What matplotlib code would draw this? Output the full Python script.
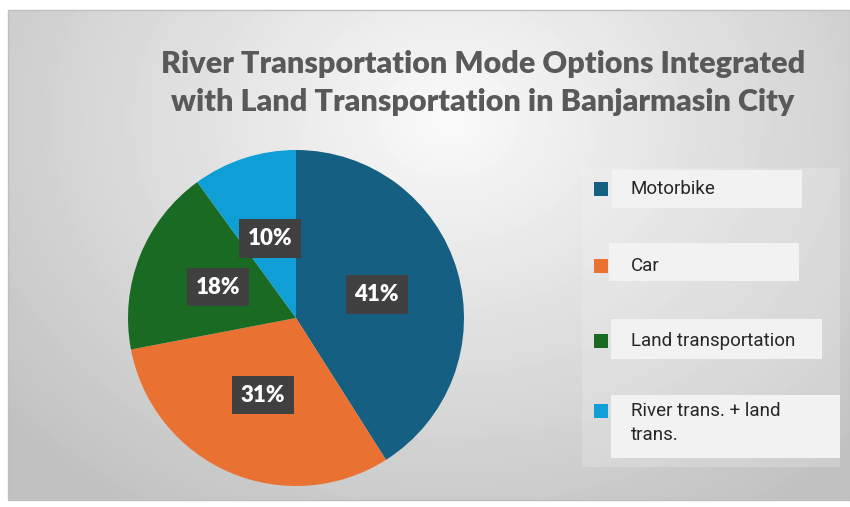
import numpy as np
import matplotlib.pyplot as plt
from matplotlib.patches import Rectangle

labels = ["Motorbike", "Car", "Land transportation", "River trans. + land\ntrans."]
shares = [41, 31, 18, 10]
colors = ["#156082", "#E97132", "#196B24", "#0F9ED5"]

W, H = 850, 507
fig = plt.figure(figsize=(W / 100, H / 100), dpi=100)

# gradient background of the chart area
bg = fig.add_axes([8 / W, (H - 500) / H, (W - 8) / W, 490 / H])
yy, xx = np.mgrid[0:490, 0:842]
d = np.hypot((xx - 440) / 520, (yy - 110) / 420)
shade = np.clip(0.98 - 0.2 * d, 0.76, 0.98)
bg.imshow(shade, cmap="gray", vmin=0, vmax=1, aspect="auto", interpolation="bilinear")
bg.axis("off")
fig.patches.append(Rectangle((8 / W, (H - 500) / H), (W - 8) / W, 490 / H,
                             transform=fig.transFigure, fill=False,
                             edgecolor="#bfbfbf", lw=1))

fig.text(483 / W, 1 - 83 / H,
         "River Transportation Mode Options Integrated\nwith Land Transportation in Banjarmasin City",
         ha="center", va="center", fontsize=22, fontweight="heavy",
         color="#595959", family="Lato", linespacing=1.45)

# pie
r = 168
ax = fig.add_axes([(296 - r) / W, (H - 318 - r) / H, 2 * r / W, 2 * r / H])
wedges, _, autotexts = ax.pie(shares, colors=colors, startangle=90, counterclock=False,
                              autopct="%d%%", pctdistance=0.5, radius=1,
                              wedgeprops=dict(linewidth=0))
for t in autotexts:
    t.set_color("white")
    t.set_fontsize(16)
    t.set_fontweight("heavy")
    t.set_family("Lato")
    t.set_bbox(dict(boxstyle="square,pad=0.4", facecolor="#404040", edgecolor="none"))
ax.set_xlim(-1, 1)
ax.set_ylim(-1, 1)
ax.set_aspect("auto")

# legend drawn by hand
fig.patches.append(Rectangle((582 / W, 1 - 467 / H), 258 / W, 299 / H,
                             transform=fig.transFigure, facecolor="#f4f4f4",
                             edgecolor="none", alpha=0.25))
rows = [(189, 170, 208, 612, 802), (266, 243, 281, 609, 799),
        (341, 319, 359, 611, 822), (411, 395, 458, 611, 840)]
for lab, col, (my, y0, y1, x0, x1) in zip(labels, colors, rows):
    fig.patches.append(Rectangle((x0 / W, 1 - y1 / H), (x1 - x0) / W, (y1 - y0) / H,
                                 transform=fig.transFigure, facecolor="#f2f2f2",
                                 edgecolor="none"))
    fig.patches.append(Rectangle((594 / W, 1 - (my + 7) / H), 14 / W, 14 / H,
                                 transform=fig.transFigure, facecolor=col,
                                 edgecolor="none"))
    fig.text(631 / W, 1 - (my - 9) / H, lab, ha="left", va="top", fontsize=13.5,
             color="#262626", family="Roboto", linespacing=1.45)

fig.savefig("out.png", dpi=100)
